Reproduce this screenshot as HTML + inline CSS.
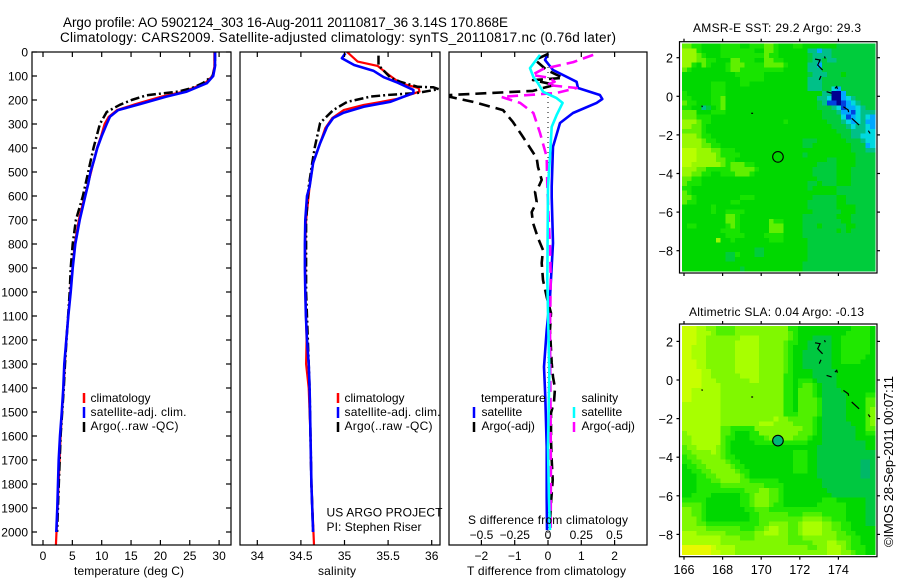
<!DOCTYPE html>
<html>
<head>
<meta charset="utf-8">
<title>Argo profile</title>
<style>
html,body{margin:0;padding:0;background:#fff;width:900px;height:580px;overflow:hidden}
svg{display:block}
text{font-family:"Liberation Sans",sans-serif;font-size:12px;fill:#000}
</style>
</head>
<body>
<svg id="chart" xmlns="http://www.w3.org/2000/svg" width="900" height="580" viewBox="0 0 900 580">
<defs>
<clipPath id="clip1"><rect x="32" y="52" width="199" height="493"/></clipPath>
<clipPath id="clip2"><rect x="240" y="52" width="200" height="493"/></clipPath>
<clipPath id="clip3"><rect x="449" y="52" width="198" height="493"/></clipPath>
</defs>
<rect width="900" height="580" fill="#fff"/>
<text x="63" y="27" font-size="13.5" style="font-size:13.5px" textLength="445">Argo profile: AO 5902124_303 16-Aug-2011 20110817_36 3.14S 170.868E</text>
<text x="60" y="42" style="font-size:13.5px" textLength="556">Climatology: CARS2009. Satellite-adjusted climatology: synTS_20110817.nc (0.76d later)</text>

<g id="maps"></g>
<g id="panels"></g>

<text x="74" y="575" textLength="110">temperature (deg C)</text>
<text x="318" y="575" textLength="38">salinity</text>
<text x="467" y="575" textLength="159">T difference from climatology</text>
<text x="468" y="524" textLength="160">S difference from climatology</text>

<g>
<line x1="84" x2="84" y1="393" y2="403" stroke="#f00" stroke-width="2.5"/>
<line x1="84" x2="84" y1="407" y2="418" stroke="#00f" stroke-width="2.5"/>
<line x1="84" x2="84" y1="422" y2="432" stroke="#000" stroke-width="2.5"/>
<text x="90.5" y="402">climatology</text>
<text x="90.5" y="416" textLength="96">satellite-adj. clim.</text>
<text x="90.5" y="430" textLength="88">Argo(..raw -QC)</text>
</g>
<g>
<line x1="338" x2="338" y1="393" y2="403" stroke="#f00" stroke-width="2.5"/>
<line x1="338" x2="338" y1="407" y2="418" stroke="#00f" stroke-width="2.5"/>
<line x1="338" x2="338" y1="422" y2="432" stroke="#000" stroke-width="2.5"/>
<text x="344.5" y="402">climatology</text>
<text x="344.5" y="416" textLength="96">satellite-adj. clim.</text>
<text x="344.5" y="430" textLength="88">Argo(..raw -QC)</text>
</g>
<g>
<text x="481" y="402">temperature</text>
<text x="581.5" y="402">salinity</text>
<line x1="474" x2="474" y1="407" y2="418" stroke="#00f" stroke-width="2.5"/>
<line x1="474" x2="474" y1="422" y2="432" stroke="#000" stroke-width="2.5"/>
<line x1="574" x2="574" y1="407" y2="418" stroke="#0ff" stroke-width="2.5"/>
<line x1="574" x2="574" y1="422" y2="432" stroke="#f0f" stroke-width="2.5"/>
<text x="481.5" y="416">satellite</text>
<text x="481.5" y="430">Argo(-adj)</text>
<text x="581.5" y="416">satellite</text>
<text x="581.5" y="430">Argo(-adj)</text>
</g>
<text x="326.5" y="516.5" textLength="116">US ARGO PROJECT</text>
<text x="326.5" y="531" textLength="95">PI: Stephen Riser</text>
<text x="693" y="32" textLength="168">AMSR-E SST: 29.2 Argo: 29.3</text>
<text x="689" y="316" textLength="175">Altimetric SLA: 0.04 Argo: -0.13</text>
<text transform="translate(893,547) rotate(-90)" x="0" y="0" textLength="171" style="font-size:13px">©IMOS 28-Sep-2011 00:07:11</text>
</svg>

<script>
// ---- shared tick labels ----
const depthTicks = [0,100,200,300,400,500,600,700,800,900,1000,1100,1200,1300,1400,1500,1600,1700,1800,1900,2000];
const tempTicks = [0,5,10,15,20,25,30];
const salTicks = [34,34.5,35,35.5,36];
const tDiffTicks = [-2,-1,0,1,2];
const sDiffTicks = [-0.5,-0.25,0,0.25,0.5];
const lonTicks = [166,168,170,172,174];
const latTicks = [2,0,-2,-4,-6,-8];

// ---- temperature profiles ----
const tempBlueDepth = [0,60,100,130,165,186,217,242,270,300,350,400,450,500,550,600,700,800,900,1000,1100,1200,1300,1400,1500,1600,1700,1800,1900,2000];
const tempBlue = [29.3,29.3,29.0,27.9,24.5,21,16.5,12.8,11.4,10.85,10,9.25,8.7,8.1,7.7,7.2,6.25,5.5,5.06,4.72,4.31,3.97,3.63,3.46,3.2,2.9,2.67,2.55,2.44,2.27];
const tempRedDepth = [0,60,100,130,165,186,217,242,270,300,350,400,500,600,700,800,1000,1200,1400,1600,1800,2000,2054];
const tempRed = [29.2,29.2,28.9,27.6,24.0,20.2,15.8,12.6,11.2,10.5,9.9,9.2,8.2,7.1,6.1,5.4,4.65,3.95,3.5,3.0,2.65,2.3,2.2];
const tempArgoDepth = [0,60,100,130,150,165,180,200,220,250,300,400,500,600,700,800,900,1000,1200,1300,1400,1600,1800,2000];
const tempArgo = [29.3,29.3,28.9,27.2,25.4,23,17.7,15.1,13.1,10.85,9.7,8.6,7.7,6.8,5.6,5.06,4.72,4.55,4.0,3.75,3.55,3.0,2.7,2.4];

// ---- salinity profiles ----
const salBlueDepth = [5,26,54,78,105,128,158,171,207,228,253,275,311,380,463,561,600,700,800,900,1000,1100,1200,1300,1400,1600,1800,2000];
const salBlue = [35.01,34.97,35.11,35.33,35.45,35.61,35.79,35.79,35.53,35.22,34.99,34.87,34.80,34.72,34.64,34.6,34.57,34.55,34.546,34.546,34.55,34.557,34.57,34.59,34.6,34.61,34.62,34.64];
const salRedDepth = [0,40,58,96,130,150,165,196,221,242,275,317,380,463,561,700,800,1000,1200,1300,1400,1600,1800,2054];
const salRed = [35.03,35.15,35.38,35.51,35.64,35.85,35.86,35.6,35.22,34.99,34.86,34.78,34.72,34.64,34.6,34.56,34.55,34.55,34.565,34.56,34.59,34.61,34.62,34.65];
const salArgoDepth = [15,55,108,124,145,147,155,171,179,186,208,242,296,395,463,561,700,1000,1400,1800,2000];
const salArgo = [35.39,35.39,35.53,35.64,35.84,36.02,36.08,35.83,35.49,35.30,35.03,34.87,34.72,34.66,34.63,34.59,34.56,34.56,34.6,34.62,34.64];

// ---- difference profiles ----
const tSatDepth = [8,33,75,124,150,179,196,212,254,296,395,561,604,796,1021,1158,1312,1437,1646,1854,1992];
const tSat = [0,-0.09,0.15,0.86,0.9,1.56,1.63,1.46,0.75,0.36,0.15,0.11,0.11,0.15,0.06,-0.04,-0.12,-0.08,-0.04,-0.04,-0.03];
const sSatDepth = [12,67,104,130,166,192,212,263,312,437,561,950,1088,1337,1646,1854,1992];
const sSat = [-0.06,-0.135,-0.11,-0.075,-0.037,0.065,0.11,0.065,0.028,0.015,0,-0.005,0,0.01,0,0.007,0.015];
const sArgoDepth = [12,42,71,96,108,124,137,150,171,187,212,254,337,437,561,812,950,1158,1575,1742,1990];
const sArgo = [0.34,0.19,-0.037,-0.12,0.015,0.05,-0.01,0.216,0.065,-0.35,-0.21,-0.11,-0.06,-0.01,-0.005,0.015,0.02,0.015,0.02,0.022,0.02];
const tArgoDepth = [8,33,75,108,117,137,150,162,179,187,208,242,292,346,442,479,533,567,583,625,667,712,775,825,879,950,1021,1088,1158,1296,1354,1400,1458,1504,1617,1700,1783,1879,1950];
const tArgo = [0,-0.39,-0.04,0.45,-0.45,0.21,-0.15,-0.45,-2.94,-2.94,-2.25,-1.35,-1.05,-0.79,-0.34,-0.3,-0.19,-0.3,-0.39,-0.34,-0.49,-0.45,-0.3,-0.15,-0.19,-0.15,-0.04,0.09,0.06,0.11,0.15,0.21,0.18,0.09,0.09,0.11,0.14,0.09,0.06];

// ---- SST map grid, colour level per 0.25 degree cell, north row first ----
const sstPalette = ['#000090','#0040e0','#00a8ff','#00d8e0','#00c088','#00cc3c','#00d800','#18e400','#60f000','#98f800','#b8ff00'];
const sstRows = [
"8877666677 7766777887 6667766666 6655555555",
"9997666677 7777766887 6666664424 4555555555",
"9998766677 7777777877 6666665444 4555555555",
"9998877666 8877766887 7666665445 4455555555",
"9976876667 8887777888 8766664425 5555555555",
"8766666667 8877777777 7666664445 5555555555",
"6666666666 6777777666 6666665444 5556555555",
"6666666666 6677777666 6666664445 5555555555",
"6666667776 6677666666 6666664445 5555555555",
"6666667776 6666666666 6666664445 5325555555",
"7666667776 6666666666 6666666664 4002555555",
"7766667786 6666666666 6666666644 3002345555",
"8776667786 6666666666 6666666654 1101234555",
"7766456786 6666666666 6666666655 5431223455",
"8886667776 6666666666 6666666665 5542213444",
"8887776666 6666666666 6666666665 5553123432",
"9998776666 6666666666 6766666666 5554323422",
"9988766666 6666666666 6666666666 6555434432",
"8888766666 6666666666 6666666666 6655544433",
"9998776666 6666666666 6666666666 6665544333",
"9999877666 6666666666 6666655566 6666555433",
"9999887766 6666666666 6666655666 6666655523",
"aaa9998877 7666666666 6666666666 6666655544",
"aaa9999877 7766666666 6666656666 6666665555",
"aaa9999887 7666666666 6666666666 5566665555",
"aa99999987 8887766666 6666666655 5566665555",
"9998877777 8888876666 6666666555 5566655555",
"9988776677 7888766666 6666666555 5566655555",
"8877666666 6666666666 6666666655 5566655555",
"8777666666 6666666666 6666665565 5566655555",
"7766666666 6666666666 6666665666 6655555555",
"8766666666 6666666666 6666666666 6655555555",
"8876666666 6677766666 6666666555 5566555555",
"8776666666 7766666666 6666665555 5566555555",
"6666667666 6666666666 6666665555 5566665555",
"6666667667 7776666666 6666666555 5556665555",
"6666666668 8766666666 6666655555 5566655555",
"6666666668 8766666687 7666655555 5556655555",
"6776666667 8766666688 8666655565 5555665555",
"6666666677 7766666688 8666655555 5565655555",
"6666666667 7776666777 7666655555 5555555555",
"6666666966 7666666677 7666665555 5555555555",
"6666666666 6666666666 6666665555 5555555555",
"6666666666 6666655666 6666665555 5555555555",
"6666666665 5766655666 6666665555 5555555555",
"6666666665 5666666666 6666665555 5555555555",
"6666666666 6666666666 6666655555 5555555555",
"6666666666 6656666666 6666655555 5555555555"
];

// ---- SLA map grid, colour level per 0.25 degree cell, north row first ----
const slaPalette = ['#00b868','#00c840','#00d800','#20e800','#50f000','#80f800','#a8ff00','#c8ff00','#e8f800'];
const slaRows = [
"7776655444 4555555555 5533222222 2222233332",
"7776665444 4555555555 5543222222 2222333332",
"7776655555 5566665555 5543222111 1223333332",
"7776655555 5666665555 5433221111 1223333332",
"7766655555 5666665555 5432221111 1223333332",
"7766655555 5666665555 5432211111 1223333332",
"7766655555 5666665555 5432211111 1223333322",
"7776655555 5666665555 5432211111 1223333222",
"7776655555 5666665555 5432211111 1222222222",
"7777665555 5666665555 5432222111 1122222222",
"7777665555 5566665555 5332222111 1122222222",
"7777666555 5555665555 5332333211 1122222222",
"7777666655 5555555555 5332344321 1122222222",
"7766666655 5555555555 5332444321 1112222222",
"7766666655 5555555555 5332444321 1111222233",
"7766666655 5555555555 5332444431 1111222244",
"6666666655 5555555555 5332444431 1111222244",
"6666666655 5555555555 5332444431 1111222245",
"6666666655 5555555555 5333444431 1111222245",
"6666666655 5555555556 5544444321 1111222245",
"6666666655 5555556665 5554444321 1111122245",
"6666666644 3333355555 5555544321 1111112244",
"5666666644 3222335555 5555444321 1111112233",
"5566666643 3222333455 5554443221 1111112222",
"5566666643 2222233333 3333332221 1111111122",
"4556666543 2222222222 2222222211 1111111122",
"4455556543 2222222222 2223332211 1111111111",
"3445555543 3222222222 2223332211 1111111111",
"3344555554 3322222222 2223332211 1111111001",
"2334455555 4332222222 2223332211 1111111001",
"2233445555 5433222222 2223332211 1111111001",
"2223344555 5543222222 2222222211 1111111001",
"2223334455 5544333333 2222222221 1111111111",
"2223333344 4444444333 3222222221 1111111111",
"2223333333 3334445544 3222222222 1111111111",
"2233332222 2233455544 3222222222 2111111111",
"3333322222 2233455544 3222222223 3322222211",
"4444322222 2233455543 3222222233 3333222211",
"5544322222 2223344433 3333333333 3333222211",
"5544322222 2222334444 4433344443 3333222211",
"5554322222 2222334444 4444455554 4333222211",
"5554433333 3333334455 5544566665 5443322211",
"5555544444 4433344566 5544566665 5443322222",
"6665555554 4444455666 5544566665 5544332222",
"6666666655 5544455555 5544455555 5544433222",
"6666666655 5555555555 5544444555 6655433222",
"8888887666 6555555555 5555554455 6665433322",
"8888887766 6555555555 5555555555 6665543322"
];

// ---- island outlines, longitude and latitude ----
const islandChains = [
  [[172.79,1.93],[173.05,1.88],[172.93,1.62],[173.18,1.36]],
  [[173.28,2.06],[173.32,1.96]],
  [[173.1,1.05],[173.01,0.85]],
  [[173.39,0.24],[173.65,0.16]],
  [[173.82,0.41],[173.91,0.5],[173.95,0.38]],
  [[174.26,-0.54],[174.51,-0.71],[174.53,-0.82]],
  [[174.69,-1.14],[175.07,-1.49]],
  [[175.55,-1.78],[175.64,-1.92]],
  [[166.93,-0.48],[166.95,-0.56]],
  [[169.48,-0.88],[169.58,-0.88]]
];
const floatLon = 170.868;
const floatLat = -3.14;

const svgNS = 'http://www.w3.org/2000/svg';
const panelsG = document.getElementById('panels');
const mapsG = document.getElementById('maps');

function mk(tag, attrs, parent) {
  const el = document.createElementNS(svgNS, tag);
  for (const k in attrs) el.setAttribute(k, attrs[k]);
  parent.appendChild(el);
  return el;
}

function namedLine(x1, y1, x2, y2, name, parent) {
  const el = mk('line', {x1: x1, y1: y1, x2: x2, y2: y2, stroke: '#000', 'stroke-width': 1.2}, parent);
  
  
  return el;
}

function namedText(x, y, str, anchor, name, parent) {
  const el = mk('text', {x: x, y: y, 'text-anchor': anchor}, parent);
  el.textContent = str;
  
  
  return el;
}

// axis functions
const yDepth = d => 52 + d * 0.24;
const xTemp = v => 43 + v * 5.87;
const xSal = v => 257.3 + (v - 34) * 87.2;
const xTD = v => 548 + v * 33.3;
const xSD = v => 548 + v * 133;
const xLon = v => 684 + (v - 166) * 19.3;
const yLatTop = v => 96.3 - v * 19.3;
const yLatBot = v => 380 - v * 19.3;

function profile(depths, vals, xf, color, width, dash, clip, name) {
  const pts = depths.map((d, i) => xf(vals[i]).toFixed(1) + ',' + yDepth(d).toFixed(1)).join(' ');
  const attrs = {points: pts, fill: 'none', stroke: color, 'stroke-width': width, 'clip-path': 'url(#' + clip + ')', 'stroke-linejoin': 'round'};
  if (dash) attrs['stroke-dasharray'] = dash;
  const el = mk('polyline', attrs, panelsG);
  
  
}

function frame(x0, x1, name) {
  const el = mk('rect', {x: x0, y: 52, width: x1 - x0, height: 493, fill: 'none', stroke: '#000', 'stroke-width': 1.2}, panelsG);
  
  
}

// Panel marks
profile(tempRedDepth, tempRed, xTemp, '#f00', 2.2, null, 'clip1', 'temperature-climatology-line');
profile(tempArgoDepth, tempArgo, xTemp, '#000', 2.5, '9 3 2 3', 'clip1', 'temperature-argo-line');
profile(tempBlueDepth, tempBlue, xTemp, '#00f', 2.6, null, 'clip1', 'temperature-satellite-line');

profile(salRedDepth, salRed, xSal, '#f00', 2.2, null, 'clip2', 'salinity-climatology-line');
profile(salArgoDepth, salArgo, xSal, '#000', 2.5, '9 3 2 3', 'clip2', 'salinity-argo-line');
profile(salBlueDepth, salBlue, xSal, '#00f', 2.6, null, 'clip2', 'salinity-satellite-line');

const zeroLine = mk('line', {x1: xTD(0), x2: xTD(0), y1: 52, y2: 545, stroke: '#000', 'stroke-width': 1, 'stroke-dasharray': '1 4'}, panelsG);


profile(tSatDepth, tSat, xTD, '#00f', 2.6, null, 'clip3', 't-difference-satellite-line');
profile(tArgoDepth, tArgo, xTD, '#000', 2.6, '11 6', 'clip3', 't-difference-argo-line');
profile(sArgoDepth, sArgo, xSD, '#f0f', 2.6, '11 6', 'clip3', 's-difference-argo-line');
profile(sSatDepth, sSat, xSD, '#0ff', 2.6, null, 'clip3', 's-difference-satellite-line');

frame(32, 231, 'temperature-panel-frame');
frame(240, 440, 'salinity-panel-frame');
frame(449, 647, 'difference-panel-frame');

// Panel ticks
depthTicks.forEach(d => {
  const y = yDepth(d);
  namedLine(32, y, 37, y, 'depth-tick-left', panelsG);
  namedLine(226, y, 231, y, 'depth-tick-right', panelsG);
  namedText(28, y + 4.5, String(d), 'end', 'depth-tick-label', panelsG);
});
tempTicks.forEach(v => {
  const x = xTemp(v);
  namedLine(x, 52, x, 57, 'temperature-tick-top', panelsG);
  namedLine(x, 540, x, 545, 'temperature-tick-bottom', panelsG);
  namedText(x, 560, String(v), 'middle', 'temperature-tick-label', panelsG);
});
salTicks.forEach(v => {
  const x = xSal(v);
  namedLine(x, 52, x, 57, 'salinity-tick-top', panelsG);
  namedLine(x, 540, x, 545, 'salinity-tick-bottom', panelsG);
  namedText(x, 560, String(v), 'middle', 'salinity-tick-label', panelsG);
});
tDiffTicks.forEach(v => {
  const x = xTD(v);
  namedLine(x, 52, x, 57, 't-difference-tick-top', panelsG);
  namedLine(x, 540, x, 545, 't-difference-tick-bottom', panelsG);
  namedText(x, 560, String(v).replace('-', '\u2212'), 'middle', 't-difference-tick-label', panelsG);
});
sDiffTicks.forEach(v => {
  namedText(xSD(v), 539, String(v).replace('-', '\u2212'), 'middle', 's-difference-tick-label', panelsG);
});

// Maps
function drawMap(rows, palette, yLat, top, bottom, name, showLon) {
  const cellW = 193 / 40;
  const cellH = (bottom - top - 4) / 48;
  const x0 = 682;
  const y0 = top + 2;
  const g = mk('g', {'shape-rendering': 'crispEdges'}, mapsG);
  
  
  rows.forEach((row, r) => {
    const chars = row.replace(/ /g, '');
    for (let c = 0; c < chars.length; c++) {
      const cell = mk('rect', {
        x: (x0 + c * cellW).toFixed(2),
        y: (y0 + r * cellH).toFixed(2),
        width: (cellW + 0.4).toFixed(2),
        height: (cellH + 0.4).toFixed(2),
        fill: palette[parseInt(chars[c], 16)]
      }, g);
      
      
    }
  });
  islandChains.forEach(chain => {
    const pts = chain.map(p => xLon(p[0]).toFixed(1) + ',' + yLat(p[1]).toFixed(1)).join(' ');
    const isl = mk('polyline', {points: pts, fill: 'none', stroke: '#000', 'stroke-width': 1.2}, mapsG);
    
    
  });
  const fr = mk('rect', {x: 679.5, y: top, width: 197.5, height: bottom - top, fill: 'none', stroke: '#000', 'stroke-width': 1.2}, mapsG);
  
  
  lonTicks.forEach(v => {
    const x = xLon(v);
    namedLine(x, top - 3, x, top, 'longitude-tick-top', mapsG);
    namedLine(x, bottom, x, bottom + 3, 'longitude-tick-bottom', mapsG);
    if (showLon) namedText(x, 574, String(v), 'middle', 'longitude-tick-label', mapsG).style.fontSize = '12.6px';
  });
  latTicks.forEach(v => {
    const y = yLat(v);
    namedLine(676.5, y, 679.5, y, 'latitude-tick-left', mapsG);
    namedLine(877, y, 880, y, 'latitude-tick-right', mapsG);
    namedText(673, y + 5, String(v).replace('-', '\u2212'), 'end', 'latitude-tick-label', mapsG).style.fontSize = '12.6px';
  });
}

drawMap(sstRows, sstPalette, yLatTop, 41.7, 273, 'sst-map', false);
drawMap(slaRows, slaPalette, yLatBot, 324, 556.7, 'sla-map', true);

const sstFloat = mk('circle', {cx: xLon(floatLon), cy: yLatTop(floatLat), r: 5.3, fill: 'none', stroke: '#000', 'stroke-width': 1.1}, mapsG);


const slaFloat = mk('circle', {cx: xLon(floatLon), cy: yLatBot(floatLat), r: 5.3, fill: '#00b878', stroke: '#000', 'stroke-width': 1.1}, mapsG);


</script>
</body>
</html>
